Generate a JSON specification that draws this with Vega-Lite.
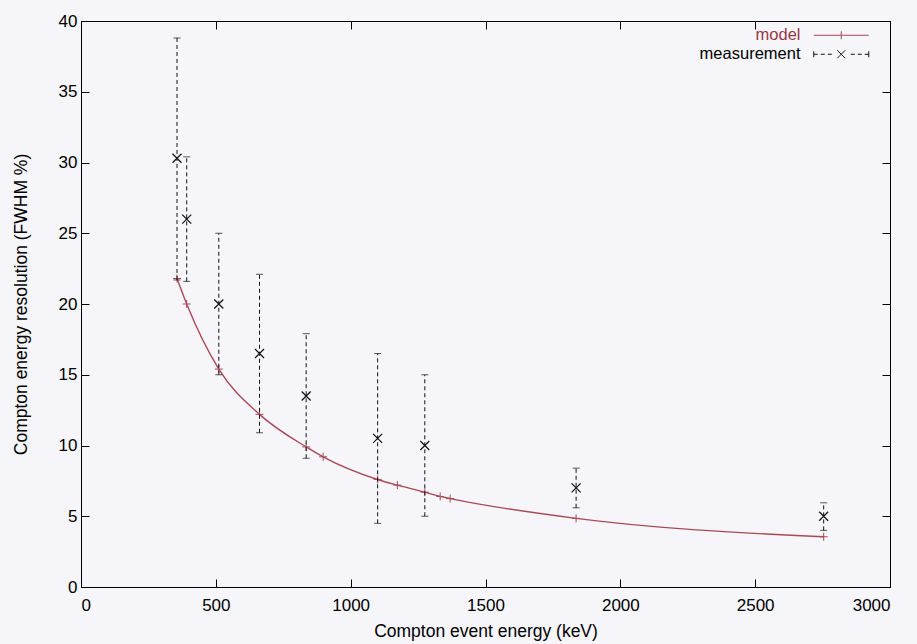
{
  "$schema": "https://vega.github.io/schema/vega-lite/v6.json",
  "autosize": "none",
  "width": 809,
  "height": 566,
  "padding": {"left": 81, "top": 21, "right": 27, "bottom": 57},
  "background": "#f6f5fa",
  "config": {
    "view": {"stroke": "black", "strokeWidth": 1},
    "font": "Liberation Sans",
    "axis": {
      "grid": false,
      "domainColor": "black",
      "tickColor": "black",
      "labelColor": "black",
      "titleColor": "black",
      "labelFont": "Liberation Sans",
      "titleFont": "Liberation Sans",
      "labelFontSize": 17,
      "titleFontSize": 17.5,
      "titleFontWeight": "normal",
      "tickSize": -8
    },
    "legend": {
      "labelFont": "Liberation Sans",
      "labelFontSize": 16.5
    }
  },
  "datasets": {
    "model": [
      {"energy": 356, "res": 21.8, "series": "model"},
      {"energy": 392, "res": 20.0, "series": "model"},
      {"energy": 511, "res": 15.4, "series": "model"},
      {"energy": 662, "res": 12.2, "series": "model"},
      {"energy": 835, "res": 9.9, "series": "model"},
      {"energy": 898, "res": 9.2, "series": "model"},
      {"energy": 1100, "res": 7.6, "series": "model"},
      {"energy": 1173, "res": 7.2, "series": "model"},
      {"energy": 1275, "res": 6.7, "series": "model"},
      {"energy": 1332, "res": 6.4, "series": "model"},
      {"energy": 1369, "res": 6.25, "series": "model"},
      {"energy": 1836, "res": 4.85, "series": "model"},
      {"energy": 2754, "res": 3.55, "series": "model"}
    ],
    "meas": [
      {"energy": 356, "res": 30.3, "lo": 21.7, "hi": 38.8, "series": "measurement"},
      {"energy": 392, "res": 26.0, "lo": 21.6, "hi": 30.4, "series": "measurement"},
      {"energy": 511, "res": 20.0, "lo": 15.0, "hi": 25.0, "series": "measurement"},
      {"energy": 662, "res": 16.5, "lo": 10.9, "hi": 22.1, "series": "measurement"},
      {"energy": 835, "res": 13.5, "lo": 9.1, "hi": 17.9, "series": "measurement"},
      {"energy": 1100, "res": 10.5, "lo": 4.5, "hi": 16.5, "series": "measurement"},
      {"energy": 1275, "res": 10.0, "lo": 5.0, "hi": 15.0, "series": "measurement"},
      {"energy": 1836, "res": 7.0, "lo": 5.6, "hi": 8.4, "series": "measurement"},
      {"energy": 2754, "res": 5.0, "lo": 4.0, "hi": 5.95, "series": "measurement"}
    ]
  },
  "resolve": {"axis": {"x": "independent", "y": "independent"}},
  "layer": [
    {
      "data": {"name": "model"},
      "mark": {"type": "line", "interpolate": "monotone", "color": "#a84a55", "strokeWidth": 1.4},
      "encoding": {
        "x": {"field": "energy", "type": "quantitative",
              "scale": {"domain": [0, 3000], "nice": false},
              "axis": {"orient": "bottom", "values": [0, 500, 1000, 1500, 2000, 2500, 3000], "format": "d", "labelPadding": 18, "title": "Compton event energy (keV)", "titlePadding": 9}},
        "y": {"field": "res", "type": "quantitative",
              "scale": {"domain": [0, 40], "nice": false},
              "axis": {"orient": "left", "values": [0, 5, 10, 15, 20, 25, 30, 35, 40], "labelPadding": 12, "title": "Compton energy resolution (FWHM %)", "titlePadding": 28}}
      }
    },
    {
      "data": {"name": "model"},
      "mark": {"type": "point", "shape": "M-1,0L1,0M0,-1L0,1", "filled": false, "strokeWidth": 1, "size": 64, "opacity": 1},
      "encoding": {
        "x": {"field": "energy", "type": "quantitative",
              "axis": {"orient": "top", "values": [0, 500, 1000, 1500, 2000, 2500, 3000], "labels": false, "title": null}},
        "y": {"field": "res", "type": "quantitative",
              "axis": {"orient": "right", "values": [0, 5, 10, 15, 20, 25, 30, 35, 40], "labels": false, "title": null}},
        "color": {"field": "series", "type": "nominal",
                  "scale": {"domain": ["model", "measurement"], "range": ["#a84a55", "#111111"]},
                  "legend": {
                    "title": null,
                    "orient": "none",
                    "legendX": 752,
                    "legendY": 6,
                    "padding": 0,
                    "rowPadding": 2,
                    "symbolSize": 100,
                    "symbolStrokeWidth": 1,
                    "labelAlign": "right",
                    "labelOffset": -49,
                    "symbolType": {"expr": "datum.value === 'model' ? 'M-5.5,0L5.5,0M0,-0.8L0,0.8' : 'M-5.5,-0.6L-5.5,0.6M5.5,-0.6L5.5,0.6M-5.5,0L-4.7,0M-4.1,0L-3.3,0M-2.7,0L-1.9,0M-0.8,-0.8L0.8,0.8M-0.8,0.8L0.8,-0.8M1.9,0L2.7,0M3.3,0L4.1,0M4.7,0L5.5,0'"},
                    "labelColor": {"expr": "datum.value === 'model' ? '#9a3545' : 'black'"}
                  }}
      }
    },
    {
      "data": {"name": "meas"},
      "mark": {"type": "rule", "color": "#111111", "strokeWidth": 1, "strokeDash": [4, 3]},
      "encoding": {
        "x": {"field": "energy", "type": "quantitative", "axis": null},
        "y": {"field": "lo", "type": "quantitative", "axis": null},
        "y2": {"field": "hi"}
      }
    },
    {
      "data": {"name": "meas"},
      "mark": {"type": "tick", "orient": "horizontal", "color": "#111111", "size": 7, "thickness": 1},
      "encoding": {
        "x": {"field": "energy", "type": "quantitative", "axis": null},
        "y": {"field": "hi", "type": "quantitative", "axis": null}
      }
    },
    {
      "data": {"name": "meas"},
      "mark": {"type": "tick", "orient": "horizontal", "color": "#111111", "size": 7, "thickness": 1},
      "encoding": {
        "x": {"field": "energy", "type": "quantitative", "axis": null},
        "y": {"field": "lo", "type": "quantitative", "axis": null}
      }
    },
    {
      "data": {"name": "meas"},
      "mark": {"type": "point", "shape": "M-1,-1L1,1M-1,1L1,-1", "filled": false, "color": "#111111", "strokeWidth": 1.2, "size": 81, "opacity": 1},
      "encoding": {
        "x": {"field": "energy", "type": "quantitative", "axis": null},
        "y": {"field": "res", "type": "quantitative", "axis": null}
      }
    }
  ]
}
